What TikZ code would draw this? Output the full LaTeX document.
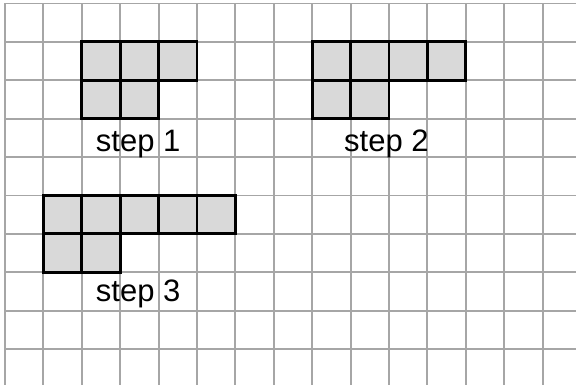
\documentclass[tikz,border=0pt]{standalone}
\usepackage{fontspec}
\setmainfont{Liberation Sans}
\definecolor{gridgray}{HTML}{A6A6A6}
\definecolor{cellgray}{HTML}{D9D9D9}
\begin{document}
\begin{tikzpicture}[x=1pt,y=-1pt,
  gridline/.style={draw=gridgray,line width=1.9pt},
  cellbox/.style={draw=black,fill=cellgray,line width=2.9pt},
  lbl/.style={font=\fontsize{31}{36}\selectfont,anchor=base west,inner sep=0pt}]
\useasboundingbox (0,0) rectangle (576,385);
\fill[white] (0,0) rectangle (576,385);
\foreach \k in {0,...,14} \draw[gridline] ({5+38.4*\k},3.5) -- ({5+38.4*\k},385);
\foreach \j in {0,...,9} \draw[gridline] (5,{3.5+38.4*\j}) -- (576,{3.5+38.4*\j});
\foreach \i/\j in {2/1,3/1,4/1,2/2,3/2,8/1,9/1,10/1,11/1,8/2,9/2,1/5,2/5,3/5,4/5,5/5,1/6,2/6}
  \draw[cellbox] ({5+38.4*\i},{3.5+38.4*\j}) rectangle ++(38.4,38.4);
\node[lbl] (s1) at (95.7,152) {step 1};
\node[lbl] (s2) at (344,152) {step 2};
\node[lbl] (s3) at (95.7,301.7) {step 3};
\end{tikzpicture}
\end{document}
